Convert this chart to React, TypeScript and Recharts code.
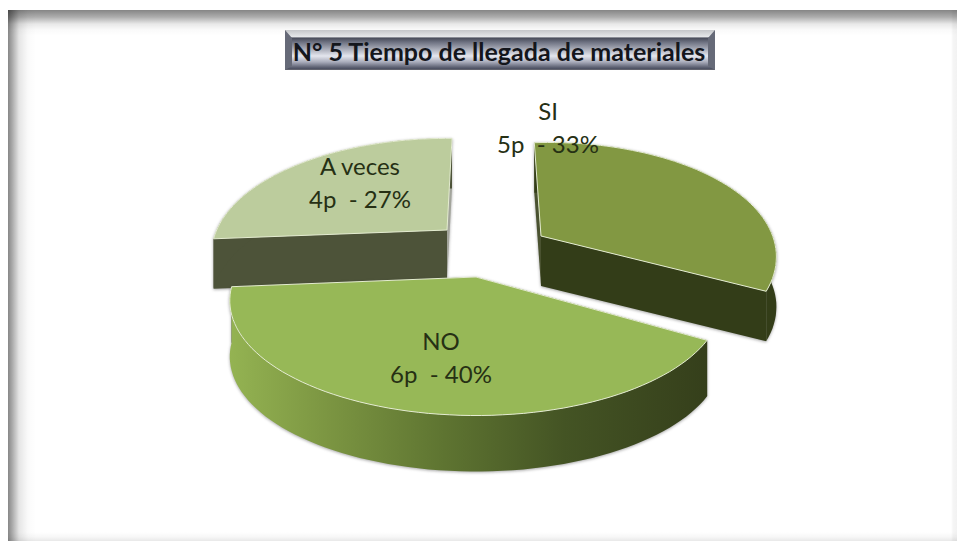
import { PieChart, Pie } from "recharts";

const categories = ["A veces", "SI", "NO"];
const people = [4, 5, 6];

const data = categories.map((name, i) => ({ name, value: people[i] }));

const TITLE = "N° 5 Tiempo de llegada de materiales";

// exploded 3D look: each slice has its own offset, scale and wall colours
const sliceStyle: Record<string, any> = {
  "A veces": {
    dx: -33, dy: -10, scale: 0.98, squash: 0.48, rot: -2.5, skew: 0, depth: 50,
    top: "#bccc9d", band: "#4d5339", frontCut: "#4d5339", backCut: "#a3a59c",
    labelX: 360, labelY: 175,
  },
  SI: {
    dx: 61, dy: -4, scale: 0.98, squash: 0.49, rot: 1, skew: -0.015, depth: 50,
    top: "#829842", band: "#333d18", frontCut: "#333d18", backCut: "#4a5230",
    labelX: 548, labelY: 120,
  },
  NO: {
    dx: -4, dy: 37, scale: 1.025, squash: 0.456, rot: -2, skew: 0, depth: 56,
    top: "#97b857", band: "url(#noWall)", frontCut: "#353f1b", backCut: "#353f1b",
    labelX: 441, labelY: 350,
  },
};

const PERSPECTIVE = 0.207; // front of the disc is nearer than the back

function arcPoints(from: number, to: number, cx: number, cy: number, rx: number, s: any) {
  const steps = Math.ceil(Math.abs(from - to) / 2);
  const pts: number[][] = [];
  for (let i = 0; i <= steps; i++) {
    const a = ((from + ((to - from) * i) / steps + s.rot) * Math.PI) / 180;
    const u = Math.cos(a);
    const v = -Math.sin(a);
    const w = 1 - PERSPECTIVE * v;
    const px = (rx * u) / w;
    pts.push([cx + px, cy + (rx * s.squash * v) / w + s.skew * px]);
  }
  return pts;
}

const toPath = (pts: number[][]) =>
  "M" + pts.map((p) => `${p[0].toFixed(1)},${p[1].toFixed(1)}`).join("L") + "Z";

const drop = (pts: number[][], d: number) => pts.map((p) => [p[0], p[1] + d]);

function Slice3D(props: any) {
  const { cx, cy, outerRadius, startAngle, endAngle, name } = props;
  const s = sliceStyle[name];
  const x0 = cx + s.dx;
  const y0 = cy + s.dy;
  const rx = outerRadius * s.scale;
  const arc = arcPoints(startAngle, endAngle, x0, y0, rx, s);
  const apex = [x0, y0];
  const first = arc[0];
  const last = arc[arc.length - 1];
  const d = s.depth;

  const cut = (p: number[]) =>
    toPath([apex, p, [p[0], p[1] + d], [apex[0], apex[1] + d]]);
  const band = toPath([...arc, ...drop(arc, d).reverse()]);
  const face = toPath([apex, ...arc]);

  // the rear cut of each slice runs through its 90 degree side
  const startIsFront = Math.sin((startAngle * Math.PI) / 180) < 0;

  return (
    <g style={{ filter: "drop-shadow(0px 1px 1.5px rgba(60,60,60,0.45))" }}>
      <path d={cut(startIsFront ? last : first)} fill={s.backCut} />
      <path d={cut(startIsFront ? first : last)} fill={s.frontCut} />
      <path d={band} fill={s.band} />
      <path d={face} fill={s.top} stroke="#e4ecd0" strokeWidth={1} strokeLinejoin="round" />
    </g>
  );
}

function SliceLabel(props: any) {
  const { name, value, percent } = props;
  const s = sliceStyle[name];
  return (
    <text
      textAnchor="middle"
      fontFamily="Lato, sans-serif"
      fontSize={24}
      fill="#263014"
      style={{ whiteSpace: "pre" }}
    >
      <tspan x={s.labelX} y={s.labelY}>{name}</tspan>
      <tspan x={s.labelX} y={s.labelY + 33}>{`${value}p  - ${Math.round(percent * 100)}%`}</tspan>
    </text>
  );
}

function TitleBox() {
  return (
    <g>
      <rect x={285} y={30} width={430} height={40} fill="url(#titleFace)" />
      <path d="M285,30L292,38L292,66L285,70Z" fill="#666a78" />
      <path d="M715,30L708,38L708,66L715,70Z" fill="#666a78" />
      <text
        x={499}
        y={61}
        textAnchor="middle"
        fontFamily="Lato, sans-serif"
        fontWeight={700}
        fontSize={25}
        fill="#14161c"
      >
        {TITLE}
      </text>
    </g>
  );
}

export default function App() {
  return (
    <div
      style={{
        position: "fixed",
        left: 0,
        top: 0,
        width: 957,
        height: 541,
        background: "#fff",
        overflow: "hidden",
      }}
    >
      {/* soft picture-frame edges */}
      <div
        style={{
          position: "absolute",
          left: 8,
          top: 10,
          width: 949,
          height: 531,
          background: [
            "linear-gradient(90deg, rgba(0,0,0,0.47) 0px, rgba(0,0,0,0.34) 4px, rgba(0,0,0,0.1) 11px, rgba(0,0,0,0.02) 20px, rgba(0,0,0,0) 28px)",
            "linear-gradient(180deg, rgba(0,0,0,0.48) 0px, rgba(0,0,0,0.32) 7px, rgba(0,0,0,0.09) 14px, rgba(0,0,0,0.02) 20px, rgba(0,0,0,0) 26px)",
            "linear-gradient(270deg, rgba(0,0,0,0.05) 0px, rgba(0,0,0,0.04) 4px, rgba(0,0,0,0) 6px)",
            "linear-gradient(0deg, rgba(0,0,0,0.09) 0px, rgba(0,0,0,0.03) 4px, rgba(0,0,0,0) 9px)",
          ].join(","),
        }}
      />
      <div style={{ position: "absolute", left: 0, top: 0 }}>
        <PieChart width={957} height={541} margin={{ top: 0, right: 0, bottom: 0, left: 0 }}>
          <defs>
            <linearGradient id="noWall" x1="0" y1="0" x2="1" y2="0">
              <stop offset="0" stopColor="#94b352" />
              <stop offset="0.2" stopColor="#7c9642" />
              <stop offset="0.45" stopColor="#5e7431" />
              <stop offset="0.7" stopColor="#445424" />
              <stop offset="1" stopColor="#353f1b" />
            </linearGradient>
            <linearGradient id="titleFace" x1="0" y1="0" x2="0" y2="1">
              <stop offset="0" stopColor="#c4c6c9" />
              <stop offset="0.17" stopColor="#e6e8ea" />
              <stop offset="0.2" stopColor="#484c5a" />
              <stop offset="0.3" stopColor="#6c7080" />
              <stop offset="0.65" stopColor="#e4e6ee" />
              <stop offset="0.8" stopColor="#a9acbb" />
              <stop offset="0.96" stopColor="#4e5264" />
              <stop offset="1" stopColor="#6a6a72" />
            </linearGradient>
          </defs>
          <TitleBox />
          <Pie
            data={data}
            dataKey="value"
            nameKey="name"
            cx={480}
            cy={240}
            outerRadius={235}
            startAngle={187}
            endAngle={-173}
            stroke="none"
            shape={Slice3D}
            label={SliceLabel}
            labelLine={false}
            isAnimationActive={false}
          />
        </PieChart>
      </div>
    </div>
  );
}
